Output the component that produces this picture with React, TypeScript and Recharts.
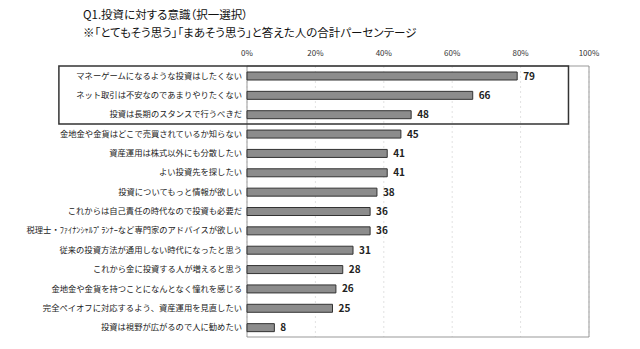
import React from 'react';
import { BarChart, Bar, XAxis, YAxis, CartesianGrid, LabelList, ReferenceArea } from 'recharts';

const categories = [
  'マネーゲームになるような投資はしたくない',
  'ネット取引は不安なのであまりやりたくない',
  '投資は長期のスタンスで行うべきだ',
  '金地金や金貨はどこで売買されているか知らない',
  '資産運用は株式以外にも分散したい',
  'よい投資先を探したい',
  '投資についてもっと情報が欲しい',
  'これからは自己責任の時代なので投資も必要だ',
  '税理士・ﾌｧｲﾅﾝｼｬﾙﾌﾟﾗﾝﾅｰなど専門家のアドバイスが欲しい',
  '従来の投資方法が通用しない時代になったと思う',
  'これから金に投資する人が増えると思う',
  '金地金や金貨を持つことになんとなく憧れを感じる',
  '完全ペイオフに対応するよう、資産運用を見直したい',
  '投資は視野が広がるので人に勧めたい',
];
const values = [79, 66, 48, 45, 41, 41, 38, 36, 36, 31, 28, 26, 25, 8];
const xTicks = [0, 20, 40, 60, 80, 100];
const title1 = 'Q1.投資に対する意識（択一選択）';
const title2 = '※「とてもそう思う」「まあそう思う」と答えた人の合計パーセンテージ';

const data = categories.map((c, i) => ({ name: c, value: values[i] }));

const FONT = '"Noto Sans CJK JP", "Noto Sans", sans-serif';

export default function App() {
  return (
    <div style={{ position: 'absolute', left: 0, top: 0, width: 640, height: 349, background: '#fff', fontFamily: FONT }}>
      <div style={{ position: 'absolute', left: 83, top: 5, fontSize: 11.5, color: '#111', lineHeight: '18px', fontFeatureSettings: '"palt"', whiteSpace: 'nowrap' }}>
        <div>{title1}</div>
        <div>{title2}</div>
      </div>
      <BarChart
        width={640}
        height={349}
        data={data}
        layout="vertical"
        margin={{ top: 46, right: 51, bottom: 12, left: 0 }}
        barSize={8}
      >
        <CartesianGrid horizontal={false} strokeDasharray="2 3" stroke="#e2e2e2" />
        <XAxis
          type="number"
          orientation="top"
          domain={[0, 100]}
          ticks={xTicks}
          tickFormatter={(v) => `${v}%`}
          height={20}
          axisLine={false}
          tickLine={false}
          tickSize={0}
          tickMargin={10}
          tick={{ fontSize: 8, fill: '#333', fontFamily: FONT }}
        />
        <YAxis
          type="category"
          dataKey="name"
          width={247}
          axisLine={false}
          tickLine={false}
          tickSize={0}
          tickMargin={5}
          interval={0}
          tick={{ fontSize: 8.3, fill: '#222', fontFamily: FONT }}
        />
        <ReferenceArea x1={0} x2={100} fill="none" stroke="#999" strokeWidth={1} />
        <ReferenceArea
          x1={-55}
          x2={94}
          y1={categories[0]}
          y2={categories[2]}
          fill="none"
          stroke="#333"
          strokeWidth={1.5}
          ifOverflow="visible"
        />
        <Bar dataKey="value" fill="#8c8c8c" stroke="#333" strokeWidth={1} isAnimationActive={false}>
          <LabelList dataKey="value" position="right" offset={6} style={{ fontSize: 10, fontWeight: 'bold', fill: '#222', fontFamily: FONT }} />
        </Bar>
      </BarChart>
    </div>
  );
}
